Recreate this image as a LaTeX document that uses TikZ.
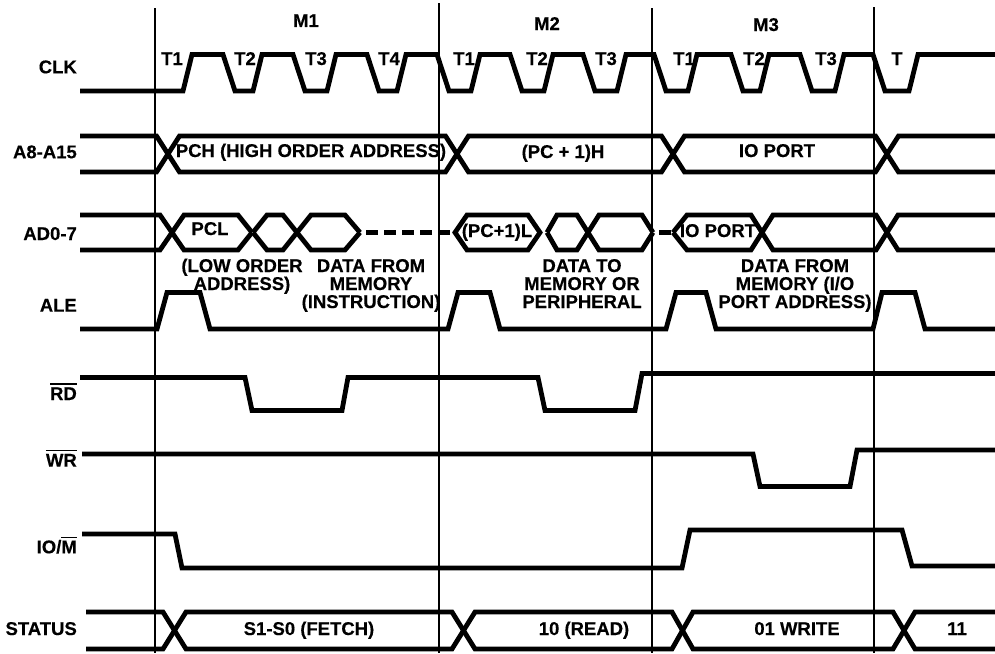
\documentclass[tikz,border=0pt]{standalone}
\usepackage{fontspec}
\setmainfont{Liberation Sans}[BoldFeatures={FakeBold=0.3}]
\newcommand\ovl[1]{\leavevmode\vbox{\hrule height 1.3pt\kern 2.6pt\hbox{#1}}}
\tikzset{
  sig/.style={line width=4.8pt},
  vline/.style={line width=1.1pt},
  lbl/.style={font=\bfseries\fontsize{18.5}{18}\selectfont, inner sep=0pt},
  dsh/.style={line width=4.8pt, dash pattern=on 12pt off 6pt, dash phase=12pt},
}
\begin{document}
\begin{tikzpicture}[x=1pt,y=-1pt]
\useasboundingbox (0,0) rectangle (995,653);
\fill[white] (0,0) rectangle (995,653);
% machine cycle boundaries
\draw[vline] (155,8) -- (155,653);
\draw[vline] (439,3) -- (439,653);
\draw[vline] (652,8) -- (652,653);
\draw[vline] (874,7) -- (874,653);
% CLK
\draw[sig] (80,91) -- (183,91) -- (192,54.5) -- (223,54.5) -- (235,91)
  -- (253,91) -- (262,54.5) -- (293,54.5) -- (305,91)
  -- (327,91) -- (336,54.5) -- (367,54.5) -- (379,91)
  -- (397,91) -- (406,54.5) -- (437,54.5) -- (449,91)
  -- (471,91) -- (480,54.5) -- (510,54.5) -- (522,91)
  -- (544,91) -- (553,54.5) -- (583,54.5) -- (595,91)
  -- (617,91) -- (626,54.5) -- (654,54.5) -- (666,91)
  -- (688,91) -- (697,54.5) -- (731,54.5) -- (743,91)
  -- (760,91) -- (769,54.5) -- (800,54.5) -- (812,91)
  -- (835,91) -- (844,54.5) -- (873,54.5) -- (885,91)
  -- (909,91) -- (918,54.5) -- (995,54.5);
% A8-A15
\draw[sig] (80,136) -- (156.5,136) -- (179.5,172) -- (445.5,172) -- (468.5,136) -- (661.5,136) -- (684.5,172) -- (875.5,172) -- (898.5,136) -- (995,136);
\draw[sig] (80,172) -- (156.5,172) -- (179.5,136) -- (445.5,136) -- (468.5,172) -- (661.5,172) -- (684.5,136) -- (875.5,136) -- (898.5,172) -- (995,172);
% AD0-7
\draw[sig] (80,215) -- (160,215) -- (184,250) -- (238,250) -- (252,232.5);
\draw[sig] (80,250) -- (160,250) -- (184,215) -- (238,215) -- (252,232.5);
\draw[sig] (253,232.5) -- (267,215) -- (283,215) -- (311,250) -- (345,250) -- (360,232.5);
\draw[sig] (253,232.5) -- (267,250) -- (283,250) -- (311,215) -- (345,215) -- (360,232.5);
\coordinate (d1a) at (360,232.5);
\coordinate (d1b) at (455,232.5);
\draw[dsh] (d1a) -- (d1b);
\draw[sig] (455,232.5) -- (467,215) -- (528,215) -- (540,232.5) -- (528,250) -- (467,250) -- cycle;
\draw[sig] (547,232.5) -- (557,215) -- (577,215) -- (599,250) -- (642,250) -- (653,232.5);
\draw[sig] (547,232.5) -- (557,250) -- (577,250) -- (599,215) -- (642,215) -- (653,232.5);
\coordinate (d2a) at (653,232.5);
\coordinate (d2b) at (673,232.5);
\draw[dsh] (d2a) -- (d2b);
\draw[sig] (673,232.5) -- (687,215) -- (751,215) -- (773,250) -- (876,250) -- (898,215) -- (995,215);
\draw[sig] (673,232.5) -- (687,250) -- (751,250) -- (773,215) -- (876,215) -- (898,250) -- (995,250);
% ALE
\draw[sig] (80,329) -- (157,329) -- (167,292.5) -- (200,292.5) -- (210,329)
  -- (448,329) -- (458,292.5) -- (490,292.5) -- (500,329)
  -- (666,329) -- (676,292.5) -- (706,292.5) -- (716,329)
  -- (873,329) -- (882,292.5) -- (915,292.5) -- (925,329) -- (995,329);
% RD
\draw[sig] (80,377.5) -- (245,377.5) -- (252,410.5) -- (342,410.5) -- (348,377.5)
  -- (538,377.5) -- (545,410.5) -- (635,410.5) -- (642,373.5) -- (995,373.5);
% WR
\draw[sig] (82,454) -- (753,454) -- (760,486.5) -- (850,486.5) -- (857,450) -- (995,450);
% IO/M
\draw[sig] (82,534) -- (175,534) -- (182,568) -- (682,568) -- (690,530) -- (902,530) -- (912,566) -- (995,566);
% STATUS
\draw[sig] (86,612) -- (163,612) -- (186,649) -- (452,649) -- (475,612) -- (672,612) -- (693,649) -- (893,649) -- (915,612) -- (995,612);
\draw[sig] (86,649) -- (163,649) -- (186,612) -- (452,612) -- (475,649) -- (672,649) -- (693,612) -- (893,612) -- (915,649) -- (995,649);
% signal names
\node[lbl, anchor=base east] (lclk) at (77,73.3) {CLK};
\node[lbl, anchor=base east] (la8) at (77,158.3) {A8-A15};
\node[lbl, anchor=base east] (lad) at (77,240) {AD0-7};
\node[lbl, anchor=base east] (lale) at (77,311.7) {ALE};
\node[lbl, anchor=base east] (lrd) at (77,400) {\ovl{RD}};
\node[lbl, anchor=base east] (lwr) at (77,466.7) {\ovl{WR}};
\node[lbl, anchor=base east] (lio) at (77,553.3) {IO/\ovl{M}};
\node[lbl, anchor=base east] (lst) at (77,635) {STATUS};
% machine cycles
\node[lbl, anchor=base] (m1) at (306,27) {M1};
\node[lbl, anchor=base] (m2) at (547,30) {M2};
\node[lbl, anchor=base] (m3) at (766,31) {M3};
% T states
\node[lbl, anchor=base] (t1a) at (172,65) {T1};
\node[lbl, anchor=base] (t2a) at (245,65) {T2};
\node[lbl, anchor=base] (t3a) at (316,65) {T3};
\node[lbl, anchor=base] (t4a) at (389,65) {T4};
\node[lbl, anchor=base] (t1b) at (464,65) {T1};
\node[lbl, anchor=base] (t2b) at (537,65) {T2};
\node[lbl, anchor=base] (t3b) at (606,65) {T3};
\node[lbl, anchor=base] (t1c) at (684,65) {T1};
\node[lbl, anchor=base] (t2c) at (754,65) {T2};
\node[lbl, anchor=base] (t3c) at (826,65) {T3};
\node[lbl, anchor=base] (t1d) at (897,65) {T};
% bus texts
\node[lbl, anchor=base] (pch) at (311,157) {PCH (HIGH ORDER ADDRESS)};
\node[lbl, anchor=base] (pch1) at (563,158) {(PC + 1)H};
\node[lbl, anchor=base] (iop) at (777,157) {IO PORT};
\node[lbl, anchor=base] (pcl) at (210,235) {PCL};
\node[lbl, anchor=base] (pcl1) at (497,237) {(PC+1)L};
\node[lbl, anchor=base] (iop2) at (718,237) {IO PORT};
\node[lbl, anchor=base] (n1a) at (242,272) {(LOW ORDER};
\node[lbl, anchor=base] (n1b) at (242,290) {ADDRESS)};
\node[lbl, anchor=base] (n2a) at (371,272) {DATA FROM};
\node[lbl, anchor=base] (n2b) at (371,290) {MEMORY};
\node[lbl, anchor=base] (n2c) at (371,308) {(INSTRUCTION)};
\node[lbl, anchor=base] (n3a) at (582,272) {DATA TO};
\node[lbl, anchor=base] (n3b) at (582,290) {MEMORY OR};
\node[lbl, anchor=base] (n3c) at (582,308) {PERIPHERAL};
\node[lbl, anchor=base] (n4a) at (795,272) {DATA FROM};
\node[lbl, anchor=base] (n4b) at (795,290) {MEMORY (I/O};
\node[lbl, anchor=base] (n4c) at (795,308) {PORT ADDRESS)};
% status texts
\node[lbl, anchor=base] (s1) at (309,635) {S1-S0 (FETCH)};
\node[lbl, anchor=base] (s2) at (584,635) {10 (READ)};
\node[lbl, anchor=base] (s3) at (797,635) {01 WRITE};
\node[lbl, anchor=base] (s4) at (957,635) {11};
\end{tikzpicture}
\end{document}
